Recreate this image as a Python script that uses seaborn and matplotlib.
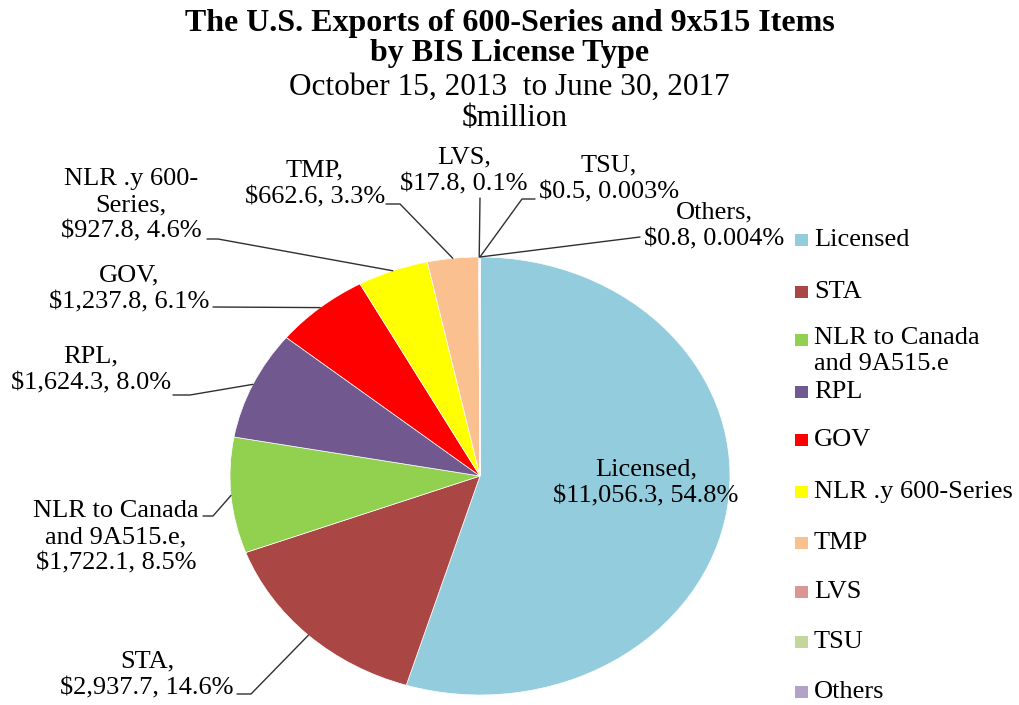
import matplotlib
matplotlib.use("Agg")
import numpy as np
import seaborn as sns
import matplotlib.pyplot as plt
from matplotlib.patches import Rectangle

# Datos
categories = ["Licensed", "STA", "NLR to Canada\nand 9A515.e", "RPL", "GOV",
              "NLR .y 600-Series", "TMP", "LVS", "TSU", "Others"]
label_names = ["Licensed,", "STA,", "NLR to Canada\nand 9A515.e,", "RPL,", "GOV,",
               "NLR .y 600-\nSeries,", "TMP,", "LVS,", "TSU,", "Others,"]
values = [11056.3, 2937.7, 1722.1, 1624.3, 1237.8, 927.8, 662.6, 17.8, 0.5, 0.8]
pct_labels = ["54.8%", "14.6%", "8.5%", "8.0%", "6.1%", "4.6%", "3.3%", "0.1%",
              "0.003%", "0.004%"]
colors = ["#93CDDD", "#AA4643", "#92D050", "#71588F", "#FF0000",
          "#FFFF00", "#FAC090", "#D99694", "#C3D69B", "#B3A2C7"]

# Posiciones de etiquetas (pixeles) y codos de las lineas guia
label_xy = [(646, 483), (147, 675), (116, 537), (91, 370), (129, 289),
            (131, 205), (315, 184), (464, 171), (609, 179), (714, 226)]
leader_pts = [None,
              [(237, 694), (251, 694)],
              [(203, 516), (213, 516)],
              [(173, 395), (190, 395)],
              [(213, 307)],
              [(207, 239), (218, 239)],
              [(386, 204), (400, 204)],
              [(480, 198)],
              [(535, 199), (522, 199)],
              [(640, 237)]]

W, H = 1019, 705
cx, cy, rx, ry = 480, 476, 250, 219

sns.set_theme(style="white")
plt.rcParams["font.family"] = ["Liberation Serif", "DejaVu Serif"]
plt.rcParams["text.color"] = "black"
palette = sns.color_palette(colors)

fig = plt.figure(figsize=(W / 100, H / 100), dpi=100)
fig.patch.set_facecolor("white")
ax = fig.add_axes([(cx - rx) / W, (H - cy - ry) / H, 2 * rx / W, 2 * ry / H])

wedges, _ = ax.pie(values, colors=palette, startangle=90, counterclock=False,
                   wedgeprops=dict(edgecolor="white", linewidth=0.5))
ax.set_aspect("auto")
ax.set_xlim(-1, 1)
ax.set_ylim(-1, 1)
ax.axis("off")


def to_data(px, py):
    return (px - cx) / rx, (cy - py) / ry


fs = 19
ls = 1.25
for i, w in enumerate(wedges):
    txt = f"{label_names[i]}\n${values[i]:,.1f}, {pct_labels[i]}"
    tx, ty = to_data(*label_xy[i])
    ax.text(tx, ty, txt, ha="center", va="center", fontsize=fs,
            linespacing=ls, color="black", clip_on=False)
    if leader_pts[i] is None:
        continue
    ang = np.deg2rad((w.theta1 + w.theta2) / 2)
    end = (np.cos(ang), np.sin(ang))
    pts = [to_data(*p) for p in leader_pts[i]] + [end]
    xs, ys = zip(*pts)
    ax.plot(xs, ys, color="#303030", lw=1, clip_on=False)

# Leyenda
leg_y = [240, 292, 340, 392, 440, 492, 543, 592, 642, 692]
for name, col, y in zip(categories, palette, leg_y):
    fig.add_artist(Rectangle((795 / W, 1 - (y + 6) / H), 13 / W, 12 / H,
                             transform=fig.transFigure, facecolor=col,
                             edgecolor="none"))
    if "\n" in name:
        fig.text(814 / W, 1 - (y - 13) / H, name, ha="left", va="top",
                 fontsize=fs, linespacing=ls, color="black")
    else:
        fig.text(814 / W, 1 - y / H, name, ha="left", va="center",
                 fontsize=fs, color="black")

# Titulos
fig.text(0.5, 1 - 24 / H, "The U.S. Exports of 600-Series and 9x515 Items",
         ha="center", va="center", fontsize=23, fontweight="bold", color="black")
fig.text(0.5, 1 - 54 / H, "by BIS License Type",
         ha="center", va="center", fontsize=23, fontweight="bold", color="black")
fig.text(0.5, 1 - 87 / H, "October 15, 2013  to June 30, 2017",
         ha="center", va="center", fontsize=22.5, color="black")
fig.text(0.505, 1 - 119 / H, "$million",
         ha="center", va="center", fontsize=22.5, color="black")

plt.savefig("out.png", dpi=100)
